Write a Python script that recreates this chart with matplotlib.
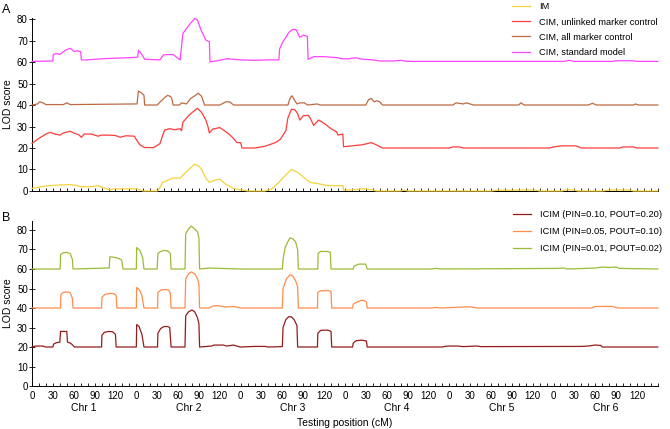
"""LOD score profiles along six chromosomes: IM/CIM (A) and ICIM (B)."""

import matplotlib

matplotlib.use("Agg")
import matplotlib.pyplot as plt
from matplotlib.ticker import FixedLocator, FixedFormatter

plt.rcParams["font.family"] = ["Liberation Sans", "DejaVu Sans"]

CHR_LENGTH = 150
CHROMOSOMES = ["Chr 1", "Chr 2", "Chr 3", "Chr 4", "Chr 5", "Chr 6"]
TICK_LABELS = [0, 30, 60, 90, 120]

# panel A (positions in cM along the whole genome)
im_pos = [0, 10, 26, 40, 54, 65, 71, 85, 95, 103, 112, 120, 150, 155, 160, 180, 182, 188, 195,
          203, 213, 222, 234, 240, 244, 250, 255, 262, 270, 279, 285, 291, 302, 310, 335, 345,
          355, 365, 373, 380, 385, 392, 400, 410, 425, 447, 448, 460, 476, 485, 495, 530, 535,
          540, 660, 670, 690, 705, 725, 730, 762, 770, 780, 785, 820, 830, 845, 860, 865, 900]
im_lod = [1.2, 1.8, 2.5, 2.8, 3.0, 2.5, 2.0, 2.0, 2.5, 1.5, 0.5, 1.0, 1.0, 0.5, 0.0, 0.0, 0.5, 4.0,
          5.0, 6.0, 6.0, 9.0, 12.5, 11.5, 10.0, 6.0, 4.0, 5.0, 5.5, 3.0, 2.0, 1.0, 0.5, 0.0, 0.0,
          1.0, 4.0, 7.5, 10.0, 9.0, 8.0, 6.0, 4.0, 3.5, 2.5, 2.5, 0.5, 0.5, 1.0, 0.8, 0.0, 0.0,
          0.4, 0.0, 0.0, 0.4, 0.3, 0.5, 0.4, 0.0, 0.0, 0.6, 0.5, 0.0, 0.0, 0.4, 0.5, 0.4, 0.0, 0.0]

cim_unlinked_pos = [0, 10, 20, 26, 33, 40, 45, 55, 60, 67, 71, 75, 85, 90, 95, 100, 110, 120, 127,
                    135, 147, 150, 155, 162, 175, 184, 188, 191, 198, 205, 213, 215, 217, 225, 232,
                    238, 244, 250, 253, 255, 260, 270, 279, 285, 291, 295, 300, 302, 320, 335, 350,
                    357, 365, 368, 373, 378, 382, 385, 390, 397, 400, 405, 412, 420, 430, 438, 440,
                    447, 448, 460, 475, 488, 495, 504, 600, 605, 615, 620, 745, 750, 762, 782, 790,
                    845, 850, 865, 870, 900]
cim_unlinked_lod = [22.2, 24.5, 26.5, 27.3, 26.5, 26.0, 27.0, 27.8, 27.0, 26.2, 25.0, 26.5, 26.5,
                    26.0, 25.5, 26.0, 26.0, 25.8, 25.0, 25.7, 25.5, 24.0, 21.5, 20.2, 20.2, 22.0,
                    26.0, 28.4, 29.0, 28.5, 29.0, 28.0, 32.0, 35.0, 37.0, 38.5, 36.5, 33.0, 30.0,
                    27.0, 28.8, 29.5, 27.5, 26.0, 24.0, 22.5, 22.5, 20.0, 20.0, 20.8, 22.5, 24.0,
                    28.0, 34.0, 38.0, 37.8, 36.0, 33.0, 35.0, 35.2, 34.0, 30.5, 33.0, 31.5, 29.0,
                    27.5, 26.0, 26.5, 20.6, 21.0, 21.5, 22.5, 21.5, 20.0, 20.0, 20.5, 20.5, 20.0,
                    20.0, 20.5, 21.0, 21.0, 20.0, 20.0, 20.5, 20.5, 20.0, 20.0]

cim_all_pos = [0, 8, 11, 16, 20, 45, 50, 55, 148, 151, 153, 158, 161, 162, 180, 186, 191, 195, 199,
               201, 203, 212, 215, 222, 228, 235, 239, 244, 247, 248, 270, 279, 284, 290, 368, 371,
               374, 378, 381, 385, 392, 396, 410, 414, 480, 484, 488, 492, 496, 500, 504, 605, 610,
               620, 625, 630, 635, 700, 703, 708, 800, 806, 812, 865, 868, 872, 900]
cim_all_lod = [40.0, 40.5, 41.5, 41.0, 40.2, 40.2, 41.0, 40.2, 40.5, 40.5, 46.5, 45.5, 44.5, 40.0,
               40.0, 42.0, 43.5, 44.5, 44.0, 43.0, 40.0, 40.0, 41.0, 40.5, 43.0, 44.5, 45.5, 44.0,
               41.0, 40.0, 40.0, 41.5, 41.5, 40.0, 40.0, 43.0, 44.3, 42.0, 40.5, 41.0, 41.0, 40.0,
               40.5, 40.0, 40.0, 42.5, 43.0, 41.5, 42.0, 41.5, 40.0, 40.0, 41.0, 40.5, 41.0, 40.5,
               40.0, 40.0, 41.0, 40.0, 40.0, 40.8, 40.0, 40.0, 40.5, 40.0, 40.0]

cim_std_pos = [0, 30, 30.5, 35, 40, 48, 55, 60, 65, 70, 71, 80, 100, 120, 140, 152, 153, 157, 162,
               184, 189, 198, 203, 212, 213, 217, 222, 228, 234, 238, 243, 250, 255, 256, 265, 280,
               290, 300, 320, 340, 355, 356, 360, 366, 370, 375, 380, 385, 390, 396, 397, 405, 420,
               440, 445, 455, 465, 475, 490, 500, 520, 530, 540, 765, 773, 780, 835, 840, 865, 870,
               900]
cim_std_lod = [60.3, 60.5, 63.5, 64.0, 63.5, 65.5, 66.4, 65.0, 65.2, 64.8, 61.0, 61.0, 61.5, 61.8,
               62.0, 62.3, 65.5, 64.0, 61.3, 61.0, 63.3, 63.5, 63.5, 61.2, 61.0, 73.3, 75.5, 78.0,
               80.3, 79.5, 74.9, 70.2, 69.5, 60.1, 60.5, 61.5, 61.3, 61.0, 60.8, 61.0, 61.0, 66.0,
               69.0, 72.0, 74.0, 75.2, 75.0, 71.5, 72.5, 72.0, 61.2, 62.5, 62.5, 62.0, 61.5, 61.5,
               62.0, 61.3, 61.0, 60.5, 60.5, 60.8, 60.3, 60.3, 60.8, 60.3, 60.3, 60.6, 60.6, 60.3,
               60.3]

# panel B
icim10_pos = [0, 5, 15, 20, 30, 31, 35, 40, 41, 50, 51, 55, 58, 61, 100, 100.5, 104, 110, 116, 120,
              121, 150, 150.5, 154, 158, 161, 180.5, 181, 185, 190, 195, 198, 200, 220, 221, 225,
              230, 234, 238, 240, 241, 258, 262, 275, 280, 290, 296, 300, 320, 335, 340, 360, 361,
              365, 369, 373, 377, 381, 382, 410.5, 411, 415, 425, 430, 431, 461, 462, 466, 474,
              478, 481, 482, 590, 595, 600, 612, 620, 640, 645, 790, 800, 810, 818, 820, 900]
icim10_lod = [20.0, 20.5, 20.5, 20.0, 20.0, 21.5, 22.2, 22.5, 28.0, 28.0, 22.5, 22.0, 21.2, 20.0,
              20.0, 26.0, 27.5, 28.0, 27.8, 26.5, 20.0, 20.0, 31.5, 30.5, 26.5, 20.0, 20.0, 27.0,
              29.5, 30.5, 30.5, 30.0, 20.0, 20.0, 36.0, 38.0, 39.0, 38.0, 35.0, 32.0, 20.0, 20.5,
              21.0, 21.0, 20.5, 21.0, 20.3, 20.0, 20.3, 20.3, 20.0, 20.2, 30.0, 34.0, 35.5, 35.5,
              34.0, 31.0, 20.0, 20.0, 27.0, 28.5, 28.7, 28.0, 20.0, 20.0, 22.0, 23.2, 23.5, 23.3,
              23.0, 20.0, 20.0, 20.4, 20.5, 20.5, 20.2, 20.5, 20.2, 20.3, 20.5, 21.0, 20.8, 20.0,
              20.0]

icim05_pos = [0, 41, 41.5, 45, 52, 55, 58, 59, 100, 100.5, 105, 113, 118, 121, 122, 150, 150.5, 154,
              158, 161, 180.5, 181, 186, 193, 197, 199, 200, 220, 221, 225, 229, 234, 238, 240, 241,
              255, 260, 265, 272, 278, 290, 298, 300, 360, 361, 366, 371, 375, 379, 382, 383, 410.5,
              411, 415, 425, 430, 431, 461, 462, 467, 474, 478, 481, 482, 575, 580, 590, 625, 633,
              640, 805, 810, 835, 842, 900]
icim05_lod = [40.0, 40.0, 47.0, 48.0, 48.3, 47.8, 45.0, 40.0, 40.0, 45.5, 47.0, 47.5, 47.3, 46.5,
              40.0, 40.0, 50.5, 49.5, 46.5, 40.0, 40.0, 48.0, 49.3, 49.5, 49.0, 47.5, 40.0, 40.0,
              55.0, 57.5, 58.5, 57.5, 55.0, 52.0, 40.0, 40.0, 41.0, 41.2, 41.0, 40.5, 40.8, 40.2,
              40.0, 40.0, 50.0, 55.0, 57.0, 56.5, 54.0, 51.0, 40.0, 40.0, 48.0, 48.8, 49.0, 48.5,
              40.0, 40.0, 42.0, 43.0, 44.0, 43.8, 43.0, 40.0, 40.0, 40.3, 40.0, 40.6, 40.5, 40.0,
              40.0, 40.8, 40.8, 40.0, 40.0]

icim01_pos = [0, 40.5, 41, 45, 50, 55, 58, 59, 90, 108, 111, 112, 118, 124, 129, 131, 150, 150.5,
              155, 159, 161, 180, 181, 185, 190, 195, 199, 200, 220, 221, 225, 229, 234, 238, 240,
              241, 255, 300, 360, 361, 364, 368, 371, 375, 379, 382, 383, 411, 411.5, 415, 425, 429,
              430, 462, 463, 470, 480, 482, 575, 580, 590, 755, 765, 770, 810, 820, 830, 840, 845,
              900]
icim01_lod = [60.0, 60.0, 67.5, 68.3, 68.5, 67.8, 65.0, 60.0, 60.3, 60.5, 60.5, 66.3, 66.0, 65.5,
              64.5, 60.0, 60.0, 71.0, 69.5, 66.0, 60.0, 60.0, 68.0, 69.0, 69.5, 69.3, 68.0, 60.0,
              60.0, 78.0, 80.5, 82.0, 80.5, 79.0, 76.0, 60.0, 60.5, 60.0, 60.0, 65.0, 71.0, 74.0,
              76.0, 75.5, 74.0, 70.0, 60.0, 60.0, 68.0, 69.0, 69.0, 68.5, 60.0, 60.0, 61.5, 62.5,
              62.5, 60.0, 60.0, 60.3, 60.0, 60.3, 60.5, 60.0, 60.5, 61.0, 60.8, 61.0, 60.3, 60.0]


def style_axis(ax, ymax, show_labels):
    total = CHR_LENGTH * len(CHROMOSOMES)
    ax.set_xlim(0, total)
    ax.set_ylim(0, ymax)
    ax.spines["top"].set_visible(False)
    ax.spines["right"].set_visible(False)
    major = [c * CHR_LENGTH + t for c in range(len(CHROMOSOMES)) for t in TICK_LABELS]
    minor = [m for m in range(0, total + 1, 10) if m not in major]
    ax.xaxis.set_major_locator(FixedLocator(major))
    ax.xaxis.set_minor_locator(FixedLocator(minor))
    if show_labels:
        ax.xaxis.set_major_formatter(FixedFormatter([str(t) for _ in CHROMOSOMES for t in TICK_LABELS]))
    else:
        ax.set_xticklabels([])
    ax.tick_params(axis="x", which="both", direction="in", length=2.5, width=0.6, labelsize=7, pad=3.5)
    ax.set_yticks(range(0, 81, 10))
    ax.tick_params(axis="y", direction="inout", length=4, width=0.6, labelsize=7, pad=1)
    for side in ("left", "bottom"):
        ax.spines[side].set_linewidth(0.7)
    ax.set_ylabel("LOD score", fontsize=7.5, labelpad=3)


fig = plt.figure(figsize=(6.7, 4.29), dpi=100)
ax_a = fig.add_axes([0.0478, 0.5548, 0.934, 0.4033])
ax_b = fig.add_axes([0.0478, 0.1002, 0.934, 0.3846])

legend_kw = dict(loc="upper right", frameon=False, fontsize=6.7, handlelength=1.95,
                 handletextpad=0.97, borderaxespad=0, borderpad=0)
line_kw = dict(linewidth=0.9, clip_on=False, zorder=3)

ax_a.plot(im_pos, im_lod, color="#f5d33a", label="IM", **line_kw)
ax_a.plot(cim_unlinked_pos, cim_unlinked_lod, color="#ff3b3b", label="CIM, unlinked marker control", **line_kw)
ax_a.plot(cim_all_pos, cim_all_lod, color="#bd6a42", label="CIM, all marker control", **line_kw)
ax_a.plot(cim_std_pos, cim_std_lod, color="#ff44ff", label="CIM, standard model", **line_kw)
style_axis(ax_a, 80.5, False)
ax_a.legend(bbox_to_anchor=(1.0, 1.092), labelspacing=0.68, **legend_kw)

ax_b.plot(icim10_pos, icim10_lod, color="#951c1c", label="ICIM (PIN=0.10, POUT=0.20)", **line_kw)
ax_b.plot(icim05_pos, icim05_lod, color="#ff8c4c", label="ICIM (PIN=0.05, POUT=0.10)", **line_kw)
ax_b.plot(icim01_pos, icim01_lod, color="#9bbb37", label="ICIM (PIN=0.01, POUT=0.02)", **line_kw)
style_axis(ax_b, 84.6, True)
ax_b.legend(bbox_to_anchor=(1.0064, 1.067), labelspacing=0.88, **legend_kw)

for i, name in enumerate(CHROMOSOMES):
    ax_b.text(i * CHR_LENGTH + CHR_LENGTH / 2, -0.1, name, transform=ax_b.get_xaxis_transform(),
              ha="center", va="top", fontsize=7.5)
ax_b.set_xlabel("Testing position (cM)", fontsize=7.5, labelpad=12)

fig.text(0.003, 0.99, "A", fontsize=9, ha="left", va="top")
fig.text(0.003, 0.505, "B", fontsize=9, ha="left", va="top")

fig.savefig("out.png", dpi=100)
